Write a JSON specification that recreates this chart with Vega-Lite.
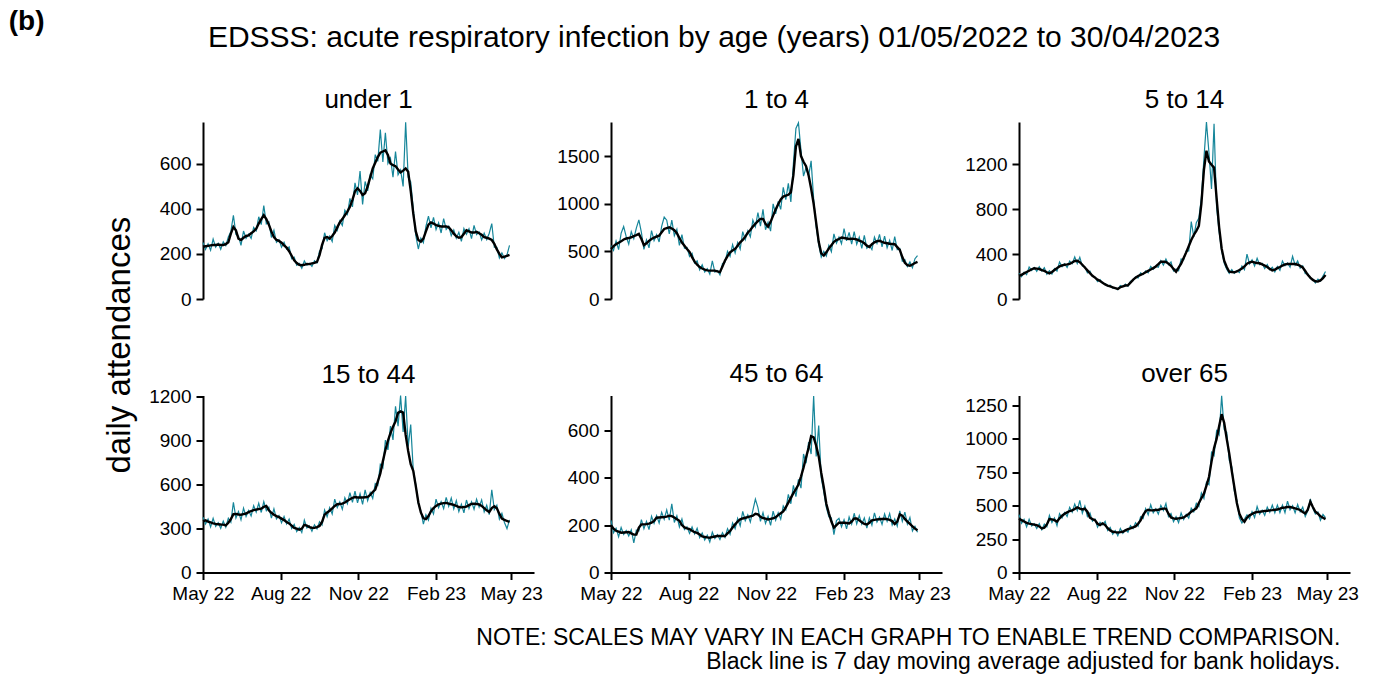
{
"$schema":"https://vega.github.io/schema/vega-lite/v6.json",
"background":"white",
"padding":{"left":8,"top":8,"right":0,"bottom":0},
"config":{"font":"Liberation Sans","view":{"stroke":null},
"axis":{"domainColor":"#000000","domainWidth":2,"tickColor":"#000000","tickWidth":2,"tickSize":7,"labelColor":"#000000","labelFontSize":19,"labelFont":"Liberation Sans","labelPadding":5,"grid":false,"labelOverlap":false,"labelFlush":false},
"axisY":{"format":"d"},
"title":{"font":"Liberation Sans","fontWeight":"normal","color":"#000000"}},
"datasets":{
"u1":[{"d":"2022-05-01","v":251,"m":232},{"d":"2022-05-04","v":220,"m":234},{"d":"2022-05-07","v":245,"m":236},{"d":"2022-05-10","v":217,"m":238},{"d":"2022-05-13","v":266,"m":240},{"d":"2022-05-16","v":230,"m":240},{"d":"2022-05-19","v":247,"m":242},{"d":"2022-05-22","v":221,"m":240},{"d":"2022-05-25","v":254,"m":240},{"d":"2022-05-28","v":237,"m":244},{"d":"2022-05-31","v":275,"m":252},{"d":"2022-06-03","v":300,"m":290},{"d":"2022-06-06","v":372,"m":320},{"d":"2022-06-09","v":287,"m":305},{"d":"2022-06-12","v":279,"m":268},{"d":"2022-06-15","v":238,"m":262},{"d":"2022-06-18","v":302,"m":272},{"d":"2022-06-21","v":269,"m":280},{"d":"2022-06-24","v":288,"m":282},{"d":"2022-06-27","v":269,"m":292},{"d":"2022-06-30","v":318,"m":300},{"d":"2022-07-03","v":303,"m":312},{"d":"2022-07-06","v":365,"m":335},{"d":"2022-07-09","v":330,"m":355},{"d":"2022-07-12","v":415,"m":372},{"d":"2022-07-15","v":334,"m":355},{"d":"2022-07-18","v":343,"m":330},{"d":"2022-07-21","v":273,"m":300},{"d":"2022-07-24","v":305,"m":275},{"d":"2022-07-27","v":252,"m":262},{"d":"2022-07-30","v":263,"m":258},{"d":"2022-08-02","v":230,"m":250},{"d":"2022-08-05","v":252,"m":238},{"d":"2022-08-08","v":221,"m":228},{"d":"2022-08-11","v":231,"m":212},{"d":"2022-08-14","v":179,"m":192},{"d":"2022-08-17","v":186,"m":172},{"d":"2022-08-20","v":150,"m":160},{"d":"2022-08-23","v":158,"m":152},{"d":"2022-08-26","v":137,"m":150},{"d":"2022-08-29","v":169,"m":152},{"d":"2022-09-01","v":150,"m":156},{"d":"2022-09-04","v":158,"m":155},{"d":"2022-09-07","v":145,"m":158},{"d":"2022-09-10","v":170,"m":160},{"d":"2022-09-13","v":160,"m":165},{"d":"2022-09-16","v":213,"m":195},{"d":"2022-09-19","v":223,"m":240},{"d":"2022-09-22","v":294,"m":272},{"d":"2022-09-25","v":259,"m":275},{"d":"2022-09-28","v":279,"m":268},{"d":"2022-10-01","v":255,"m":280},{"d":"2022-10-04","v":327,"m":295},{"d":"2022-10-07","v":305,"m":318},{"d":"2022-10-10","v":347,"m":340},{"d":"2022-10-13","v":327,"m":355},{"d":"2022-10-16","v":394,"m":372},{"d":"2022-10-19","v":376,"m":388},{"d":"2022-10-22","v":447,"m":410},{"d":"2022-10-25","v":409,"m":440},{"d":"2022-10-28","v":516,"m":478},{"d":"2022-10-31","v":462,"m":492},{"d":"2022-11-03","v":568,"m":480},{"d":"2022-11-06","v":420,"m":462},{"d":"2022-11-09","v":522,"m":470},{"d":"2022-11-12","v":480,"m":500},{"d":"2022-11-15","v":551,"m":540},{"d":"2022-11-18","v":534,"m":580},{"d":"2022-11-21","v":641,"m":605},{"d":"2022-11-24","v":611,"m":630},{"d":"2022-11-27","v":752,"m":650},{"d":"2022-11-30","v":609,"m":655},{"d":"2022-12-03","v":738,"m":660},{"d":"2022-12-06","v":602,"m":640},{"d":"2022-12-09","v":626,"m":602},{"d":"2022-12-12","v":541,"m":594},{"d":"2022-12-15","v":655,"m":590},{"d":"2022-12-18","v":552,"m":575},{"d":"2022-12-21","v":573,"m":562},{"d":"2022-12-24","v":500,"m":570},{"d":"2022-12-27","v":785,"m":580},{"d":"2022-12-30","v":540,"m":565},{"d":"2023-01-02","v":520,"m":480},{"d":"2023-01-05","v":400,"m":380},{"d":"2023-01-08","v":282,"m":300},{"d":"2023-01-11","v":222,"m":262},{"d":"2023-01-14","v":270,"m":255},{"d":"2023-01-17","v":250,"m":268},{"d":"2023-01-20","v":322,"m":300},{"d":"2023-01-23","v":368,"m":330},{"d":"2023-01-26","v":316,"m":340},{"d":"2023-01-29","v":362,"m":335},{"d":"2023-02-01","v":308,"m":328},{"d":"2023-02-04","v":338,"m":325},{"d":"2023-02-07","v":293,"m":322},{"d":"2023-02-10","v":357,"m":322},{"d":"2023-02-13","v":309,"m":322},{"d":"2023-02-16","v":324,"m":318},{"d":"2023-02-19","v":281,"m":305},{"d":"2023-02-22","v":307,"m":290},{"d":"2023-02-25","v":270,"m":278},{"d":"2023-02-28","v":296,"m":272},{"d":"2023-03-03","v":256,"m":275},{"d":"2023-03-06","v":313,"m":290},{"d":"2023-03-09","v":287,"m":305},{"d":"2023-03-12","v":312,"m":300},{"d":"2023-03-15","v":268,"m":295},{"d":"2023-03-18","v":327,"m":295},{"d":"2023-03-21","v":286,"m":298},{"d":"2023-03-24","v":298,"m":292},{"d":"2023-03-27","v":262,"m":285},{"d":"2023-03-30","v":292,"m":275},{"d":"2023-04-02","v":264,"m":272},{"d":"2023-04-05","v":292,"m":268},{"d":"2023-04-08","v":335,"m":262},{"d":"2023-04-11","v":230,"m":245},{"d":"2023-04-14","v":229,"m":220},{"d":"2023-04-17","v":182,"m":200},{"d":"2023-04-20","v":205,"m":185},{"d":"2023-04-23","v":180,"m":188},{"d":"2023-04-26","v":196,"m":192},{"d":"2023-04-29","v":238,"m":196}],
"a14":[{"d":"2022-05-01","v":560,"m":525},{"d":"2022-05-04","v":511,"m":555},{"d":"2022-05-07","v":610,"m":575},{"d":"2022-05-10","v":519,"m":590},{"d":"2022-05-13","v":690,"m":605},{"d":"2022-05-16","v":760,"m":625},{"d":"2022-05-19","v":654,"m":635},{"d":"2022-05-22","v":576,"m":640},{"d":"2022-05-25","v":706,"m":648},{"d":"2022-05-28","v":634,"m":660},{"d":"2022-05-31","v":744,"m":670},{"d":"2022-06-03","v":830,"m":683},{"d":"2022-06-06","v":700,"m":630},{"d":"2022-06-09","v":520,"m":565},{"d":"2022-06-12","v":620,"m":585},{"d":"2022-06-15","v":537,"m":610},{"d":"2022-06-18","v":718,"m":630},{"d":"2022-06-21","v":613,"m":645},{"d":"2022-06-24","v":675,"m":655},{"d":"2022-06-27","v":599,"m":665},{"d":"2022-06-30","v":763,"m":700},{"d":"2022-07-03","v":860,"m":735},{"d":"2022-07-06","v":827,"m":745},{"d":"2022-07-09","v":684,"m":752},{"d":"2022-07-12","v":829,"m":740},{"d":"2022-07-15","v":664,"m":722},{"d":"2022-07-18","v":731,"m":690},{"d":"2022-07-21","v":563,"m":640},{"d":"2022-07-24","v":675,"m":592},{"d":"2022-07-27","v":532,"m":560},{"d":"2022-07-30","v":541,"m":525},{"d":"2022-08-02","v":446,"m":495},{"d":"2022-08-05","v":480,"m":440},{"d":"2022-08-08","v":376,"m":392},{"d":"2022-08-11","v":400,"m":360},{"d":"2022-08-14","v":305,"m":335},{"d":"2022-08-17","v":358,"m":320},{"d":"2022-08-20","v":283,"m":308},{"d":"2022-08-23","v":318,"m":300},{"d":"2022-08-26","v":262,"m":298},{"d":"2022-08-29","v":400,"m":298},{"d":"2022-09-01","v":283,"m":298},{"d":"2022-09-04","v":299,"m":290},{"d":"2022-09-07","v":254,"m":282},{"d":"2022-09-10","v":371,"m":340},{"d":"2022-09-13","v":387,"m":403},{"d":"2022-09-16","v":500,"m":450},{"d":"2022-09-19","v":447,"m":491},{"d":"2022-09-22","v":571,"m":510},{"d":"2022-09-25","v":484,"m":526},{"d":"2022-09-28","v":594,"m":560},{"d":"2022-10-01","v":524,"m":595},{"d":"2022-10-04","v":707,"m":620},{"d":"2022-10-07","v":622,"m":655},{"d":"2022-10-10","v":716,"m":695},{"d":"2022-10-13","v":653,"m":725},{"d":"2022-10-16","v":828,"m":760},{"d":"2022-10-19","v":758,"m":790},{"d":"2022-10-22","v":908,"m":818},{"d":"2022-10-25","v":765,"m":841},{"d":"2022-10-28","v":942,"m":841},{"d":"2022-10-31","v":727,"m":790},{"d":"2022-11-03","v":806,"m":760},{"d":"2022-11-06","v":713,"m":810},{"d":"2022-11-09","v":998,"m":875},{"d":"2022-11-12","v":893,"m":940},{"d":"2022-11-15","v":1025,"m":995},{"d":"2022-11-18","v":941,"m":1045},{"d":"2022-11-21","v":1172,"m":1075},{"d":"2022-11-24","v":1042,"m":1085},{"d":"2022-11-27","v":1214,"m":1094},{"d":"2022-11-30","v":1019,"m":1120},{"d":"2022-12-03","v":1420,"m":1300},{"d":"2022-12-06","v":1790,"m":1600},{"d":"2022-12-09","v":1850,"m":1680},{"d":"2022-12-12","v":1560,"m":1500},{"d":"2022-12-15","v":1290,"m":1440},{"d":"2022-12-18","v":1380,"m":1395},{"d":"2022-12-21","v":1290,"m":1300},{"d":"2022-12-24","v":1450,"m":1160},{"d":"2022-12-27","v":1050,"m":1000},{"d":"2022-12-30","v":760,"m":800},{"d":"2023-01-02","v":570,"m":600},{"d":"2023-01-05","v":440,"m":480},{"d":"2023-01-08","v":500,"m":456},{"d":"2023-01-11","v":450,"m":490},{"d":"2023-01-14","v":562,"m":530},{"d":"2023-01-17","v":497,"m":565},{"d":"2023-01-20","v":684,"m":600},{"d":"2023-01-23","v":587,"m":618},{"d":"2023-01-26","v":649,"m":630},{"d":"2023-01-29","v":580,"m":645},{"d":"2023-02-01","v":740,"m":640},{"d":"2023-02-04","v":610,"m":635},{"d":"2023-02-07","v":699,"m":630},{"d":"2023-02-10","v":575,"m":632},{"d":"2023-02-13","v":707,"m":631},{"d":"2023-02-16","v":575,"m":625},{"d":"2023-02-19","v":649,"m":612},{"d":"2023-02-22","v":531,"m":603},{"d":"2023-02-25","v":667,"m":585},{"d":"2023-02-28","v":532,"m":560},{"d":"2023-03-03","v":561,"m":545},{"d":"2023-03-06","v":518,"m":575},{"d":"2023-03-09","v":649,"m":595},{"d":"2023-03-12","v":584,"m":608},{"d":"2023-03-15","v":679,"m":612},{"d":"2023-03-18","v":546,"m":600},{"d":"2023-03-21","v":661,"m":590},{"d":"2023-03-24","v":538,"m":585},{"d":"2023-03-27","v":615,"m":580},{"d":"2023-03-30","v":509,"m":578},{"d":"2023-04-02","v":656,"m":575},{"d":"2023-04-05","v":518,"m":545},{"d":"2023-04-08","v":530,"m":515},{"d":"2023-04-11","v":396,"m":440},{"d":"2023-04-14","v":414,"m":380},{"d":"2023-04-17","v":341,"m":355},{"d":"2023-04-20","v":389,"m":350},{"d":"2023-04-23","v":329,"m":362},{"d":"2023-04-26","v":423,"m":378},{"d":"2023-04-29","v":455,"m":390}],
"a514":[{"d":"2022-05-01","v":228,"m":207},{"d":"2022-05-04","v":198,"m":215},{"d":"2022-05-07","v":239,"m":228},{"d":"2022-05-10","v":216,"m":240},{"d":"2022-05-13","v":285,"m":252},{"d":"2022-05-16","v":254,"m":265},{"d":"2022-05-19","v":281,"m":273},{"d":"2022-05-22","v":246,"m":270},{"d":"2022-05-25","v":288,"m":267},{"d":"2022-05-28","v":250,"m":258},{"d":"2022-05-31","v":278,"m":250},{"d":"2022-06-03","v":221,"m":238},{"d":"2022-06-06","v":251,"m":228},{"d":"2022-06-09","v":221,"m":240},{"d":"2022-06-12","v":271,"m":258},{"d":"2022-06-15","v":248,"m":275},{"d":"2022-06-18","v":328,"m":290},{"d":"2022-06-21","v":288,"m":300},{"d":"2022-06-24","v":314,"m":305},{"d":"2022-06-27","v":280,"m":308},{"d":"2022-06-30","v":337,"m":312},{"d":"2022-07-03","v":315,"m":325},{"d":"2022-07-06","v":375,"m":338},{"d":"2022-07-09","v":316,"m":340},{"d":"2022-07-12","v":371,"m":328},{"d":"2022-07-15","v":293,"m":305},{"d":"2022-07-18","v":288,"m":280},{"d":"2022-07-21","v":232,"m":255},{"d":"2022-07-24","v":248,"m":230},{"d":"2022-07-27","v":201,"m":207},{"d":"2022-07-30","v":196,"m":190},{"d":"2022-08-02","v":155,"m":172},{"d":"2022-08-05","v":173,"m":160},{"d":"2022-08-08","v":140,"m":145},{"d":"2022-08-11","v":138,"m":130},{"d":"2022-08-14","v":115,"m":120},{"d":"2022-08-17","v":123,"m":112},{"d":"2022-08-20","v":97,"m":104},{"d":"2022-08-23","v":101,"m":96},{"d":"2022-08-26","v":83,"m":90},{"d":"2022-08-29","v":119,"m":105},{"d":"2022-09-01","v":108,"m":113},{"d":"2022-09-04","v":132,"m":120},{"d":"2022-09-07","v":113,"m":122},{"d":"2022-09-10","v":157,"m":145},{"d":"2022-09-13","v":163,"m":170},{"d":"2022-09-16","v":196,"m":190},{"d":"2022-09-19","v":187,"m":205},{"d":"2022-09-22","v":232,"m":215},{"d":"2022-09-25","v":218,"m":225},{"d":"2022-09-28","v":250,"m":238},{"d":"2022-10-01","v":233,"m":250},{"d":"2022-10-04","v":291,"m":262},{"d":"2022-10-07","v":264,"m":275},{"d":"2022-10-10","v":290,"m":290},{"d":"2022-10-13","v":282,"m":310},{"d":"2022-10-16","v":342,"m":332},{"d":"2022-10-19","v":302,"m":332},{"d":"2022-10-22","v":356,"m":330},{"d":"2022-10-25","v":305,"m":315},{"d":"2022-10-28","v":329,"m":296},{"d":"2022-10-31","v":249,"m":268},{"d":"2022-11-03","v":267,"m":243},{"d":"2022-11-06","v":252,"m":280},{"d":"2022-11-09","v":356,"m":315},{"d":"2022-11-12","v":350,"m":365},{"d":"2022-11-15","v":427,"m":415},{"d":"2022-11-18","v":428,"m":470},{"d":"2022-11-21","v":690,"m":525},{"d":"2022-11-24","v":553,"m":570},{"d":"2022-11-27","v":680,"m":607},{"d":"2022-11-30","v":720,"m":650},{"d":"2022-12-03","v":900,"m":850},{"d":"2022-12-06","v":1250,"m":1150},{"d":"2022-12-09","v":1575,"m":1320},{"d":"2022-12-12","v":1300,"m":1225},{"d":"2022-12-15","v":980,"m":1195},{"d":"2022-12-18","v":1560,"m":1170},{"d":"2022-12-21","v":820,"m":900},{"d":"2022-12-24","v":600,"m":640},{"d":"2022-12-27","v":430,"m":450},{"d":"2022-12-30","v":320,"m":341},{"d":"2023-01-02","v":265,"m":285},{"d":"2023-01-05","v":228,"m":243},{"d":"2023-01-08","v":262,"m":240},{"d":"2023-01-11","v":228,"m":237},{"d":"2023-01-14","v":252,"m":245},{"d":"2023-01-17","v":235,"m":258},{"d":"2023-01-20","v":294,"m":272},{"d":"2023-01-23","v":261,"m":290},{"d":"2023-01-26","v":400,"m":315},{"d":"2023-01-29","v":312,"m":325},{"d":"2023-02-01","v":349,"m":332},{"d":"2023-02-04","v":293,"m":325},{"d":"2023-02-07","v":362,"m":320},{"d":"2023-02-10","v":305,"m":318},{"d":"2023-02-13","v":317,"m":308},{"d":"2023-02-16","v":271,"m":298},{"d":"2023-02-19","v":308,"m":285},{"d":"2023-02-22","v":260,"m":268},{"d":"2023-02-25","v":283,"m":255},{"d":"2023-02-28","v":241,"m":262},{"d":"2023-03-03","v":289,"m":275},{"d":"2023-03-06","v":256,"m":285},{"d":"2023-03-09","v":337,"m":298},{"d":"2023-03-12","v":296,"m":308},{"d":"2023-03-15","v":320,"m":311},{"d":"2023-03-18","v":283,"m":311},{"d":"2023-03-21","v":380,"m":311},{"d":"2023-03-24","v":301,"m":311},{"d":"2023-03-27","v":339,"m":305},{"d":"2023-03-30","v":274,"m":295},{"d":"2023-04-02","v":295,"m":281},{"d":"2023-04-05","v":225,"m":250},{"d":"2023-04-08","v":226,"m":215},{"d":"2023-04-11","v":182,"m":190},{"d":"2023-04-14","v":175,"m":170},{"d":"2023-04-17","v":144,"m":158},{"d":"2023-04-20","v":178,"m":155},{"d":"2023-04-23","v":160,"m":165},{"d":"2023-04-26","v":204,"m":185},{"d":"2023-04-29","v":245,"m":213}],
"a1544":[{"d":"2022-05-01","v":378,"m":350},{"d":"2022-05-04","v":331,"m":356},{"d":"2022-05-07","v":365,"m":348},{"d":"2022-05-10","v":311,"m":342},{"d":"2022-05-13","v":370,"m":336},{"d":"2022-05-16","v":315,"m":332},{"d":"2022-05-19","v":340,"m":330},{"d":"2022-05-22","v":302,"m":328},{"d":"2022-05-25","v":350,"m":327},{"d":"2022-05-28","v":309,"m":322},{"d":"2022-05-31","v":371,"m":340},{"d":"2022-06-03","v":343,"m":365},{"d":"2022-06-06","v":480,"m":398},{"d":"2022-06-09","v":372,"m":400},{"d":"2022-06-12","v":416,"m":396},{"d":"2022-06-15","v":359,"m":395},{"d":"2022-06-18","v":439,"m":399},{"d":"2022-06-21","v":383,"m":403},{"d":"2022-06-24","v":424,"m":412},{"d":"2022-06-27","v":386,"m":420},{"d":"2022-06-30","v":456,"m":426},{"d":"2022-07-03","v":413,"m":430},{"d":"2022-07-06","v":473,"m":434},{"d":"2022-07-09","v":410,"m":436},{"d":"2022-07-12","v":484,"m":448},{"d":"2022-07-15","v":423,"m":455},{"d":"2022-07-18","v":446,"m":425},{"d":"2022-07-21","v":371,"m":408},{"d":"2022-07-24","v":435,"m":395},{"d":"2022-07-27","v":366,"m":385},{"d":"2022-07-30","v":389,"m":378},{"d":"2022-08-02","v":339,"m":368},{"d":"2022-08-05","v":383,"m":358},{"d":"2022-08-08","v":331,"m":345},{"d":"2022-08-11","v":365,"m":335},{"d":"2022-08-14","v":301,"m":320},{"d":"2022-08-17","v":329,"m":305},{"d":"2022-08-20","v":279,"m":300},{"d":"2022-08-23","v":307,"m":292},{"d":"2022-08-26","v":273,"m":300},{"d":"2022-08-29","v":358,"m":325},{"d":"2022-09-01","v":304,"m":320},{"d":"2022-09-04","v":319,"m":310},{"d":"2022-09-07","v":282,"m":306},{"d":"2022-09-10","v":326,"m":305},{"d":"2022-09-13","v":298,"m":310},{"d":"2022-09-16","v":347,"m":318},{"d":"2022-09-19","v":324,"m":345},{"d":"2022-09-22","v":427,"m":395},{"d":"2022-09-25","v":381,"m":410},{"d":"2022-09-28","v":443,"m":422},{"d":"2022-10-01","v":399,"m":438},{"d":"2022-10-04","v":501,"m":455},{"d":"2022-10-07","v":443,"m":466},{"d":"2022-10-10","v":482,"m":468},{"d":"2022-10-13","v":432,"m":470},{"d":"2022-10-16","v":511,"m":478},{"d":"2022-10-19","v":470,"m":490},{"d":"2022-10-22","v":545,"m":500},{"d":"2022-10-25","v":479,"m":510},{"d":"2022-10-28","v":556,"m":515},{"d":"2022-10-31","v":476,"m":512},{"d":"2022-11-03","v":538,"m":512},{"d":"2022-11-06","v":466,"m":512},{"d":"2022-11-09","v":565,"m":514},{"d":"2022-11-12","v":490,"m":516},{"d":"2022-11-15","v":546,"m":530},{"d":"2022-11-18","v":506,"m":550},{"d":"2022-11-21","v":607,"m":567},{"d":"2022-11-24","v":595,"m":620},{"d":"2022-11-27","v":738,"m":677},{"d":"2022-11-30","v":714,"m":760},{"d":"2022-12-03","v":904,"m":837},{"d":"2022-12-06","v":837,"m":900},{"d":"2022-12-09","v":1000,"m":952},{"d":"2022-12-12","v":905,"m":995},{"d":"2022-12-15","v":1135,"m":1032},{"d":"2022-12-18","v":1000,"m":1090},{"d":"2022-12-21","v":1208,"m":1100},{"d":"2022-12-24","v":960,"m":1092},{"d":"2022-12-27","v":1205,"m":940},{"d":"2022-12-30","v":860,"m":830},{"d":"2023-01-02","v":1010,"m":740},{"d":"2023-01-05","v":700,"m":695},{"d":"2023-01-08","v":600,"m":590},{"d":"2023-01-11","v":470,"m":480},{"d":"2023-01-14","v":420,"m":410},{"d":"2023-01-17","v":330,"m":370},{"d":"2023-01-20","v":394,"m":365},{"d":"2023-01-23","v":358,"m":385},{"d":"2023-01-26","v":439,"m":418},{"d":"2023-01-29","v":400,"m":440},{"d":"2023-02-01","v":501,"m":455},{"d":"2023-02-04","v":443,"m":466},{"d":"2023-02-07","v":484,"m":470},{"d":"2023-02-10","v":436,"m":474},{"d":"2023-02-13","v":513,"m":475},{"d":"2023-02-16","v":451,"m":470},{"d":"2023-02-19","v":508,"m":466},{"d":"2023-02-22","v":434,"m":462},{"d":"2023-02-25","v":491,"m":455},{"d":"2023-02-28","v":416,"m":447},{"d":"2023-03-03","v":467,"m":445},{"d":"2023-03-06","v":407,"m":447},{"d":"2023-03-09","v":495,"m":450},{"d":"2023-03-12","v":437,"m":460},{"d":"2023-03-15","v":483,"m":469},{"d":"2023-03-18","v":432,"m":470},{"d":"2023-03-21","v":501,"m":468},{"d":"2023-03-24","v":446,"m":465},{"d":"2023-03-27","v":496,"m":455},{"d":"2023-03-30","v":414,"m":440},{"d":"2023-04-02","v":459,"m":425},{"d":"2023-04-05","v":395,"m":413},{"d":"2023-04-08","v":565,"m":440},{"d":"2023-04-11","v":430,"m":452},{"d":"2023-04-14","v":460,"m":438},{"d":"2023-04-17","v":364,"m":400},{"d":"2023-04-20","v":405,"m":368},{"d":"2023-04-23","v":342,"m":360},{"d":"2023-04-26","v":300,"m":352},{"d":"2023-04-29","v":360,"m":345}],
"a4564":[{"d":"2022-05-01","v":220,"m":200},{"d":"2022-05-04","v":168,"m":185},{"d":"2022-05-07","v":187,"m":176},{"d":"2022-05-10","v":151,"m":172},{"d":"2022-05-13","v":190,"m":168},{"d":"2022-05-16","v":161,"m":169},{"d":"2022-05-19","v":177,"m":170},{"d":"2022-05-22","v":154,"m":171},{"d":"2022-05-25","v":180,"m":165},{"d":"2022-05-28","v":125,"m":160},{"d":"2022-05-31","v":179,"m":160},{"d":"2022-06-03","v":175,"m":190},{"d":"2022-06-06","v":223,"m":203},{"d":"2022-06-09","v":185,"m":203},{"d":"2022-06-12","v":216,"m":204},{"d":"2022-06-15","v":181,"m":206},{"d":"2022-06-18","v":237,"m":210},{"d":"2022-06-21","v":207,"m":218},{"d":"2022-06-24","v":240,"m":231},{"d":"2022-06-27","v":209,"m":232},{"d":"2022-06-30","v":254,"m":233},{"d":"2022-07-03","v":225,"m":234},{"d":"2022-07-06","v":264,"m":236},{"d":"2022-07-09","v":221,"m":240},{"d":"2022-07-12","v":290,"m":238},{"d":"2022-07-15","v":211,"m":232},{"d":"2022-07-18","v":239,"m":225},{"d":"2022-07-21","v":192,"m":218},{"d":"2022-07-24","v":226,"m":200},{"d":"2022-07-27","v":181,"m":190},{"d":"2022-07-30","v":193,"m":186},{"d":"2022-08-02","v":165,"m":183},{"d":"2022-08-05","v":192,"m":176},{"d":"2022-08-08","v":163,"m":170},{"d":"2022-08-11","v":187,"m":167},{"d":"2022-08-14","v":147,"m":160},{"d":"2022-08-17","v":167,"m":152},{"d":"2022-08-20","v":137,"m":150},{"d":"2022-08-23","v":157,"m":148},{"d":"2022-08-26","v":129,"m":147},{"d":"2022-08-29","v":170,"m":150},{"d":"2022-09-01","v":144,"m":152},{"d":"2022-09-04","v":160,"m":154},{"d":"2022-09-07","v":139,"m":154},{"d":"2022-09-10","v":168,"m":154},{"d":"2022-09-13","v":148,"m":154},{"d":"2022-09-16","v":185,"m":165},{"d":"2022-09-19","v":161,"m":175},{"d":"2022-09-22","v":209,"m":190},{"d":"2022-09-25","v":185,"m":203},{"d":"2022-09-28","v":228,"m":215},{"d":"2022-10-01","v":197,"m":224},{"d":"2022-10-04","v":258,"m":228},{"d":"2022-10-07","v":219,"m":231},{"d":"2022-10-10","v":243,"m":234},{"d":"2022-10-13","v":213,"m":237},{"d":"2022-10-16","v":262,"m":240},{"d":"2022-10-19","v":310,"m":248},{"d":"2022-10-22","v":274,"m":245},{"d":"2022-10-25","v":216,"m":235},{"d":"2022-10-28","v":253,"m":230},{"d":"2022-10-31","v":207,"m":227},{"d":"2022-11-03","v":237,"m":224},{"d":"2022-11-06","v":199,"m":226},{"d":"2022-11-09","v":259,"m":229},{"d":"2022-11-12","v":221,"m":233},{"d":"2022-11-15","v":252,"m":242},{"d":"2022-11-18","v":225,"m":250},{"d":"2022-11-21","v":281,"m":258},{"d":"2022-11-24","v":264,"m":275},{"d":"2022-11-27","v":330,"m":295},{"d":"2022-11-30","v":290,"m":315},{"d":"2022-12-03","v":368,"m":335},{"d":"2022-12-06","v":320,"m":352},{"d":"2022-12-09","v":393,"m":371},{"d":"2022-12-12","v":356,"m":405},{"d":"2022-12-15","v":500,"m":442},{"d":"2022-12-18","v":461,"m":485},{"d":"2022-12-21","v":550,"m":526},{"d":"2022-12-24","v":500,"m":575},{"d":"2022-12-27","v":745,"m":570},{"d":"2022-12-30","v":490,"m":535},{"d":"2023-01-02","v":620,"m":490},{"d":"2023-01-05","v":400,"m":420},{"d":"2023-01-08","v":340,"m":360},{"d":"2023-01-11","v":275,"m":290},{"d":"2023-01-14","v":235,"m":250},{"d":"2023-01-17","v":230,"m":215},{"d":"2023-01-20","v":160,"m":189},{"d":"2023-01-23","v":219,"m":200},{"d":"2023-01-26","v":229,"m":210},{"d":"2023-01-29","v":193,"m":210},{"d":"2023-02-01","v":223,"m":210},{"d":"2023-02-04","v":184,"m":209},{"d":"2023-02-07","v":234,"m":207},{"d":"2023-02-10","v":204,"m":215},{"d":"2023-02-13","v":250,"m":228},{"d":"2023-02-16","v":205,"m":228},{"d":"2023-02-19","v":240,"m":220},{"d":"2023-02-22","v":204,"m":212},{"d":"2023-02-25","v":230,"m":205},{"d":"2023-02-28","v":187,"m":203},{"d":"2023-03-03","v":231,"m":210},{"d":"2023-03-06","v":200,"m":220},{"d":"2023-03-09","v":252,"m":222},{"d":"2023-03-12","v":213,"m":224},{"d":"2023-03-15","v":234,"m":225},{"d":"2023-03-18","v":203,"m":226},{"d":"2023-03-21","v":247,"m":227},{"d":"2023-03-24","v":216,"m":225},{"d":"2023-03-27","v":249,"m":222},{"d":"2023-03-30","v":200,"m":217},{"d":"2023-04-02","v":226,"m":205},{"d":"2023-04-05","v":196,"m":215},{"d":"2023-04-08","v":260,"m":245},{"d":"2023-04-11","v":216,"m":240},{"d":"2023-04-14","v":255,"m":226},{"d":"2023-04-17","v":204,"m":215},{"d":"2023-04-20","v":232,"m":205},{"d":"2023-04-23","v":175,"m":195},{"d":"2023-04-26","v":195,"m":185},{"d":"2023-04-29","v":170,"m":178}],
"o65":[{"d":"2022-05-01","v":433,"m":405},{"d":"2022-05-04","v":368,"m":392},{"d":"2022-05-07","v":397,"m":382},{"d":"2022-05-10","v":342,"m":372},{"d":"2022-05-13","v":399,"m":366},{"d":"2022-05-16","v":348,"m":362},{"d":"2022-05-19","v":365,"m":358},{"d":"2022-05-22","v":329,"m":354},{"d":"2022-05-25","v":366,"m":345},{"d":"2022-05-28","v":320,"m":330},{"d":"2022-05-31","v":362,"m":335},{"d":"2022-06-03","v":342,"m":360},{"d":"2022-06-06","v":428,"m":400},{"d":"2022-06-09","v":374,"m":398},{"d":"2022-06-12","v":408,"m":392},{"d":"2022-06-15","v":350,"m":380},{"d":"2022-06-18","v":441,"m":405},{"d":"2022-06-21","v":408,"m":425},{"d":"2022-06-24","v":449,"m":440},{"d":"2022-06-27","v":419,"m":450},{"d":"2022-06-30","v":488,"m":460},{"d":"2022-07-03","v":451,"m":465},{"d":"2022-07-06","v":513,"m":475},{"d":"2022-07-09","v":464,"m":488},{"d":"2022-07-12","v":540,"m":478},{"d":"2022-07-15","v":444,"m":472},{"d":"2022-07-18","v":497,"m":478},{"d":"2022-07-21","v":419,"m":455},{"d":"2022-07-24","v":447,"m":410},{"d":"2022-07-27","v":384,"m":400},{"d":"2022-07-30","v":400,"m":392},{"d":"2022-08-02","v":339,"m":365},{"d":"2022-08-05","v":376,"m":355},{"d":"2022-08-08","v":357,"m":368},{"d":"2022-08-11","v":383,"m":355},{"d":"2022-08-14","v":315,"m":332},{"d":"2022-08-17","v":337,"m":315},{"d":"2022-08-20","v":287,"m":305},{"d":"2022-08-23","v":314,"m":302},{"d":"2022-08-26","v":276,"m":300},{"d":"2022-08-29","v":329,"m":302},{"d":"2022-09-01","v":293,"m":305},{"d":"2022-09-04","v":321,"m":315},{"d":"2022-09-07","v":302,"m":325},{"d":"2022-09-10","v":350,"m":330},{"d":"2022-09-13","v":328,"m":338},{"d":"2022-09-16","v":373,"m":345},{"d":"2022-09-19","v":347,"m":365},{"d":"2022-09-22","v":417,"m":390},{"d":"2022-09-25","v":404,"m":430},{"d":"2022-09-28","v":478,"m":460},{"d":"2022-10-01","v":432,"m":470},{"d":"2022-10-04","v":507,"m":465},{"d":"2022-10-07","v":447,"m":466},{"d":"2022-10-10","v":477,"m":468},{"d":"2022-10-13","v":437,"m":470},{"d":"2022-10-16","v":502,"m":474},{"d":"2022-10-19","v":464,"m":478},{"d":"2022-10-22","v":516,"m":478},{"d":"2022-10-25","v":418,"m":440},{"d":"2022-10-28","v":441,"m":412},{"d":"2022-10-31","v":381,"m":405},{"d":"2022-11-03","v":418,"m":402},{"d":"2022-11-06","v":373,"m":405},{"d":"2022-11-09","v":445,"m":408},{"d":"2022-11-12","v":396,"m":412},{"d":"2022-11-15","v":434,"m":425},{"d":"2022-11-18","v":407,"m":438},{"d":"2022-11-21","v":482,"m":455},{"d":"2022-11-24","v":454,"m":468},{"d":"2022-11-27","v":518,"m":480},{"d":"2022-11-30","v":494,"m":520},{"d":"2022-12-03","v":595,"m":556},{"d":"2022-12-06","v":555,"m":590},{"d":"2022-12-09","v":676,"m":650},{"d":"2022-12-12","v":658,"m":715},{"d":"2022-12-15","v":900,"m":830},{"d":"2022-12-18","v":876,"m":931},{"d":"2022-12-21","v":1060,"m":1000},{"d":"2022-12-24","v":1030,"m":1094},{"d":"2022-12-27","v":1322,"m":1185},{"d":"2022-12-30","v":1070,"m":1120},{"d":"2023-01-02","v":1050,"m":1000},{"d":"2023-01-05","v":840,"m":890},{"d":"2023-01-08","v":790,"m":760},{"d":"2023-01-11","v":610,"m":640},{"d":"2023-01-14","v":540,"m":520},{"d":"2023-01-17","v":410,"m":440},{"d":"2023-01-20","v":370,"m":400},{"d":"2023-01-23","v":400,"m":380},{"d":"2023-01-26","v":432,"m":410},{"d":"2023-01-29","v":402,"m":428},{"d":"2023-02-01","v":456,"m":438},{"d":"2023-02-04","v":412,"m":448},{"d":"2023-02-07","v":494,"m":453},{"d":"2023-02-10","v":437,"m":455},{"d":"2023-02-13","v":467,"m":458},{"d":"2023-02-16","v":428,"m":460},{"d":"2023-02-19","v":490,"m":462},{"d":"2023-02-22","v":451,"m":465},{"d":"2023-02-25","v":504,"m":467},{"d":"2023-02-28","v":447,"m":470},{"d":"2023-03-03","v":505,"m":472},{"d":"2023-03-06","v":449,"m":478},{"d":"2023-03-09","v":504,"m":485},{"d":"2023-03-12","v":448,"m":487},{"d":"2023-03-15","v":534,"m":490},{"d":"2023-03-18","v":470,"m":490},{"d":"2023-03-21","v":500,"m":485},{"d":"2023-03-24","v":446,"m":480},{"d":"2023-03-27","v":509,"m":475},{"d":"2023-03-30","v":454,"m":468},{"d":"2023-04-02","v":489,"m":453},{"d":"2023-04-05","v":420,"m":442},{"d":"2023-04-08","v":461,"m":470},{"d":"2023-04-11","v":550,"m":530},{"d":"2023-04-14","v":480,"m":490},{"d":"2023-04-17","v":437,"m":455},{"d":"2023-04-20","v":453,"m":440},{"d":"2023-04-23","v":391,"m":420},{"d":"2023-04-26","v":434,"m":410},{"d":"2023-04-29","v":410,"m":400}]
},
"title":{"text":"(b)","anchor":"start","fontSize":28,"fontWeight":"bold","baseline":"alphabetic","offset":0,"dx":-95,"dy":35},
"vconcat":[{
 "title":{"text":"EDSSS: acute respiratory infection by age (years) 01/05/2022 to 30/04/2023","anchor":"middle","fontSize":30,"baseline":"alphabetic","offset":9.5,"dx":-17},
 "vconcat":[{
  "title":{"text":["NOTE: SCALES MAY VARY IN EACH GRAPH TO ENABLE TREND COMPARISON.","Black line is 7 day moving average adjusted for bank holidays."],"orient":"bottom","anchor":"end","fontSize":23,"lineHeight":24,"baseline":"alphabetic","offset":41,"dx":-18},
  "vconcat":[{
   "title":{"text":"daily attendances","orient":"left","anchor":"middle","fontSize":33,"baseline":"alphabetic","offset":-14},
   "columns":3,
   "spacing":{"row":96.5,"column":77},
   "bounds":"flush",
   "resolve":{"scale":{"x":"independent","y":"independent"}},
   "concat":[
    {"data":{"name":"u1"},"title":{"text":"under 1","fontSize":26,"anchor":"middle","frame":"group","baseline":"alphabetic","offset":-14},"width":331,"height":177,
     "encoding":{"x":{"field":"d","type":"temporal","scale":{"type":"utc","domain":[{"year":2022,"month":5,"date":1,"utc":true},{"year":2023,"month":5,"date":28,"utc":true}]},"axis":null}},
     "layer":[
      {"mark":{"type":"line","color":"#16869a","strokeWidth":1.2},"encoding":{"y":{"field":"v","type":"quantitative","scale":{"domain":[0,786],"nice":false},"axis":{"values":[0,200,400,600],"title":null}}}},
      {"mark":{"type":"line","color":"#000000","strokeWidth":2.4},"encoding":{"y":{"field":"m","type":"quantitative","axis":{"values":[0,200,400,600],"title":null}}}}
     ]},
    {"data":{"name":"a14"},"title":{"text":"1 to 4","fontSize":26,"anchor":"middle","frame":"group","baseline":"alphabetic","offset":-14},"width":331,"height":177,
     "encoding":{"x":{"field":"d","type":"temporal","scale":{"type":"utc","domain":[{"year":2022,"month":5,"date":1,"utc":true},{"year":2023,"month":5,"date":28,"utc":true}]},"axis":null}},
     "layer":[
      {"mark":{"type":"line","color":"#16869a","strokeWidth":1.2},"encoding":{"y":{"field":"v","type":"quantitative","scale":{"domain":[0,1858],"nice":false},"axis":{"values":[0,500,1000,1500],"title":null}}}},
      {"mark":{"type":"line","color":"#000000","strokeWidth":2.4},"encoding":{"y":{"field":"m","type":"quantitative","axis":{"values":[0,500,1000,1500],"title":null}}}}
     ]},
    {"data":{"name":"a514"},"title":{"text":"5 to 14","fontSize":26,"anchor":"middle","frame":"group","baseline":"alphabetic","offset":-14},"width":331,"height":177,
     "encoding":{"x":{"field":"d","type":"temporal","scale":{"type":"utc","domain":[{"year":2022,"month":5,"date":1,"utc":true},{"year":2023,"month":5,"date":28,"utc":true}]},"axis":null}},
     "layer":[
      {"mark":{"type":"line","color":"#16869a","strokeWidth":1.2},"encoding":{"y":{"field":"v","type":"quantitative","scale":{"domain":[0,1576],"nice":false},"axis":{"values":[0,400,800,1200],"title":null}}}},
      {"mark":{"type":"line","color":"#000000","strokeWidth":2.4},"encoding":{"y":{"field":"m","type":"quantitative","axis":{"values":[0,400,800,1200],"title":null}}}}
     ]},
    {"data":{"name":"a1544"},"title":{"text":"15 to 44","fontSize":26,"anchor":"middle","frame":"group","baseline":"alphabetic","offset":-21},"width":331,"height":177,
     "encoding":{"x":{"field":"d","type":"temporal","scale":{"type":"utc","domain":[{"year":2022,"month":5,"date":1,"utc":true},{"year":2023,"month":5,"date":28,"utc":true}]},"axis":{"values":[{"year":2022,"month":5,"date":1,"utc":true},{"year":2022,"month":8,"date":1,"utc":true},{"year":2022,"month":11,"date":1,"utc":true},{"year":2023,"month":2,"date":1,"utc":true},{"year":2023,"month":5,"date":1,"utc":true}],"format":"%b %y","title":null}}},
     "layer":[
      {"mark":{"type":"line","color":"#16869a","strokeWidth":1.2},"encoding":{"y":{"field":"v","type":"quantitative","scale":{"domain":[0,1209],"nice":false},"axis":{"values":[0,300,600,900,1200],"title":null}}}},
      {"mark":{"type":"line","color":"#000000","strokeWidth":2.4},"encoding":{"y":{"field":"m","type":"quantitative","axis":{"values":[0,300,600,900,1200],"title":null}}}}
     ]},
    {"data":{"name":"a4564"},"title":{"text":"45 to 64","fontSize":26,"anchor":"middle","frame":"group","baseline":"alphabetic","offset":-14},"width":331,"height":177,
     "encoding":{"x":{"field":"d","type":"temporal","scale":{"type":"utc","domain":[{"year":2022,"month":5,"date":1,"utc":true},{"year":2023,"month":5,"date":28,"utc":true}]},"axis":{"values":[{"year":2022,"month":5,"date":1,"utc":true},{"year":2022,"month":8,"date":1,"utc":true},{"year":2022,"month":11,"date":1,"utc":true},{"year":2023,"month":2,"date":1,"utc":true},{"year":2023,"month":5,"date":1,"utc":true}],"format":"%b %y","title":null}}},
     "layer":[
      {"mark":{"type":"line","color":"#16869a","strokeWidth":1.2},"encoding":{"y":{"field":"v","type":"quantitative","scale":{"domain":[0,747],"nice":false},"axis":{"values":[0,200,400,600],"title":null}}}},
      {"mark":{"type":"line","color":"#000000","strokeWidth":2.4},"encoding":{"y":{"field":"m","type":"quantitative","axis":{"values":[0,200,400,600],"title":null}}}}
     ]},
    {"data":{"name":"o65"},"title":{"text":"over 65","fontSize":26,"anchor":"middle","frame":"group","baseline":"alphabetic","offset":-14},"width":331,"height":177,
     "encoding":{"x":{"field":"d","type":"temporal","scale":{"type":"utc","domain":[{"year":2022,"month":5,"date":1,"utc":true},{"year":2023,"month":5,"date":28,"utc":true}]},"axis":{"values":[{"year":2022,"month":5,"date":1,"utc":true},{"year":2022,"month":8,"date":1,"utc":true},{"year":2022,"month":11,"date":1,"utc":true},{"year":2023,"month":2,"date":1,"utc":true},{"year":2023,"month":5,"date":1,"utc":true}],"format":"%b %y","title":null}}},
     "layer":[
      {"mark":{"type":"line","color":"#16869a","strokeWidth":1.2},"encoding":{"y":{"field":"v","type":"quantitative","scale":{"domain":[0,1325],"nice":false},"axis":{"values":[0,250,500,750,1000,1250],"title":null}}}},
      {"mark":{"type":"line","color":"#000000","strokeWidth":2.4},"encoding":{"y":{"field":"m","type":"quantitative","axis":{"values":[0,250,500,750,1000,1250],"title":null}}}}
     ]}
   ]
  }]
 }]
}]
}
